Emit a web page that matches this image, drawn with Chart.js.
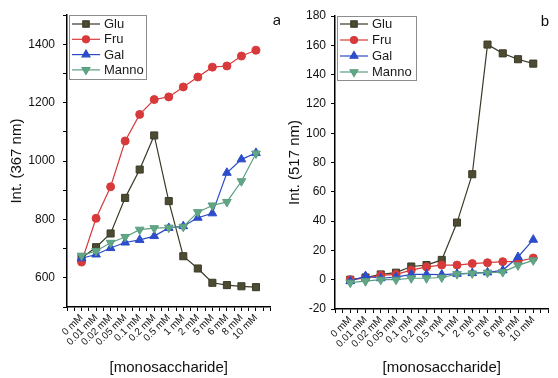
<!DOCTYPE html>
<html>
<head>
<meta charset="utf-8">
<script src="https://cdn.jsdelivr.net/npm/chart.js@4"></script>
<style>
  html, body { margin: 0; padding: 0; background: #fff; }
  .panel { position: absolute; top: 0; height: 378px; }
  #panelA { left: 0; width: 280px; }
  #panelB { left: 280px; width: 278px; }
</style>
</head>
<body>
<div class="panel" id="panelA"><canvas id="chartA" width="280" height="378"></canvas></div>
<div class="panel" id="panelB"><canvas id="chartB" width="278" height="378"></canvas></div>
<script>
// concentrations on the x axis
const concLabels = ['0 mM', '0.01 mM', '0.02 mM', '0.05 mM', '0.1 mM', '0.2 mM', '0.5 mM',
  '1 mM', '2 mM', '5 mM', '6 mM', '8 mM', '10 mM'];
const seriesNames = ['Glu', 'Fru', 'Gal', 'Manno'];

// panel a: intensity at 367 nm
const glu367 = [668, 705, 752, 874, 971, 1088, 863, 674, 632, 583, 575, 571, 568];
const fru367 = [654, 804, 912, 1069, 1160, 1211, 1220, 1254, 1288, 1322, 1326, 1360, 1380];
const gal367 = [667, 680, 702, 721, 730, 743, 771, 777, 806, 821, 960, 1006, 1028];
const manno367 = [676, 692, 720, 740, 765, 770, 772, 775, 825, 848, 860, 931, 1026];

// panel b: intensity at 517 nm
const glu517 = [0, 1.5, 3.6, 4.8, 9, 10, 13.5, 39, 72, 160.5, 154.5, 150.5, 147.5];
const fru517 = [0, 1, 3, 3.6, 6.5, 8.7, 10, 10, 11, 11.6, 12.3, 12.5, 14.8];
const gal517 = [-1, 2.5, 1, 1.8, 3.6, 3.6, 3.5, 4, 4.5, 5, 6.4, 15.5, 27.3];
const manno517 = [-2, -1, 0, 0, 1, 1, 1.5, 3.8, 4.3, 4.8, 5.2, 9.8, 13.2];

// look of each series
const lineColors = ['#3a3a28', '#d63a3a', '#2b4bc6', '#5a9f80'];
const fillColors = ['#4d4c32', '#d9393b', '#2d4dcc', '#62a685'];
const markerStyles = ['rect', 'circle', 'triangle', 'triangle'];
const markerRotation = [0, 0, 0, 180];
const markerRadius = [5, 4, 5, 5];
const drawOrder = [4, 3, 2, 1];

const FONT = '"Liberation Sans", Arial, sans-serif';

// legend box + panel letter drawn on top of the chart
const boxLegendPlugin = {
  id: 'boxLegend',
  afterDraw(chart, args, o) {
    const ctx = chart.ctx;
    ctx.save();
    ctx.fillStyle = '#fff';
    ctx.fillRect(o.x, o.y, o.w, o.h);
    ctx.strokeStyle = '#8c8c8c';
    ctx.lineWidth = 1;
    ctx.strokeRect(o.x + 0.5, o.y + 0.5, o.w, o.h);
    seriesNames.forEach((name, i) => {
      const cy = o.y + o.first + i * o.rowH;
      ctx.strokeStyle = lineColors[i];
      ctx.lineWidth = 1.2;
      ctx.beginPath();
      ctx.moveTo(o.x + 3, cy);
      ctx.lineTo(o.x + 31, cy);
      ctx.stroke();
      ctx.fillStyle = fillColors[i];
      ctx.strokeStyle = lineColors[i];
      Chart.helpers.drawPoint(ctx, {
        pointStyle: markerStyles[i], rotation: markerRotation[i],
        radius: markerRadius[i] - 0.5, borderWidth: 1
      }, o.x + 17, cy);
      ctx.fillStyle = '#1a1a1a';
      ctx.font = '13px ' + FONT;
      ctx.textAlign = 'left';
      ctx.textBaseline = 'middle';
      ctx.fillText(name, o.x + 35, cy + 0.5);
    });
    ctx.fillStyle = '#111';
    ctx.font = '15px ' + FONT;
    ctx.textAlign = 'center';
    ctx.fillText(o.letter, o.letterX, o.letterY);
    ctx.restore();
  }
};

function buildDatasets(values) {
  return values.map((vals, i) => ({
    label: seriesNames[i],
    data: vals.map((v, k) => ({ x: k, y: v })),
    borderColor: lineColors[i],
    backgroundColor: fillColors[i],
    pointBorderColor: lineColors[i],
    pointBackgroundColor: fillColors[i],
    pointStyle: markerStyles[i],
    pointRotation: markerRotation[i],
    pointRadius: markerRadius[i],
    pointBorderWidth: 1,
    borderWidth: 1.2,
    order: drawOrder[i],
  }));
}

function makeChart(canvasId, values, cfg) {
  return new Chart(document.getElementById(canvasId), {
    type: 'line',
    data: { datasets: buildDatasets(values) },
    options: {
      responsive: false,
      animation: false,
      devicePixelRatio: 1,
      layout: { padding: { top: cfg.top, right: cfg.right, left: 0, bottom: 0 } },
      plugins: {
        legend: { display: false },
        tooltip: { enabled: false },
        boxLegend: cfg.legend,
      },
      scales: {
        x: {
          type: 'linear',
          min: -1,
          max: 13,
          afterFit: (s) => { s.height = cfg.xAxisH; },
          grid: { drawOnChartArea: false, drawTicks: true, tickLength: 4, color: '#000' },
          border: { display: true, color: '#000', width: 1.5 },
          ticks: {
            stepSize: 0.5,
            autoSkip: false,
            minRotation: 45,
            maxRotation: 45,
            padding: 1,
            color: '#111',
            font: { family: FONT, size: 10 },
            callback: (v) => (Number.isInteger(v) && v >= 0 && v < concLabels.length) ? concLabels[v] : '',
          },
          title: {
            display: true,
            text: '[monosaccharide]',
            color: '#111',
            font: { family: FONT, size: 15 },
            padding: { top: 0, bottom: 1 },
          },
        },
        y: {
          min: cfg.yMin,
          max: cfg.yMax,
          afterFit: (s) => { s.width = cfg.yAxisW; },
          grid: { drawOnChartArea: false, drawTicks: true, tickLength: 4, color: '#000' },
          border: { display: true, color: '#000', width: 1.5 },
          ticks: {
            stepSize: cfg.yStep,
            padding: cfg.yPad,
            color: '#111',
            font: { family: FONT, size: 12 },
            callback: cfg.yLabel,
          },
          title: {
            display: true,
            text: cfg.yTitle,
            color: '#111',
            font: { family: FONT, size: 15 },
            padding: { top: cfg.yTitlePad, bottom: 0 },
          },
        },
      },
    },
    plugins: [boxLegendPlugin],
  });
}

makeChart('chartA', [glu367, fru367, gal367, manno367], {
  top: 15, right: 3, xAxisH: 71, yAxisW: 67,
  yMin: 500, yMax: 1500, yStep: 100, yPad: 8, yTitlePad: 8,
  yLabel: (v) => (v % 200 === 0 && v >= 600 && v <= 1400) ? v : '',
  yTitle: 'Int. (367 nm)',
  legend: { x: 69, y: 15, w: 77, h: 64, first: 9, rowH: 15.3, letter: 'a', letterX: 277, letterY: 21 },
});

makeChart('chartB', [glu517, fru517, gal517, manno517], {
  top: 16, right: 5, xAxisH: 69, yAxisW: 55,
  yMin: -20, yMax: 180, yStep: 10, yPad: 5, yTitlePad: 6,
  yLabel: (v) => (v % 20 === 0) ? v : '',
  yTitle: 'Int. (517 nm)',
  legend: { x: 57, y: 16, w: 79, h: 64, first: 8, rowH: 16, letter: 'b', letterX: 265, letterY: 22 },
});
</script>
</body>
</html>
